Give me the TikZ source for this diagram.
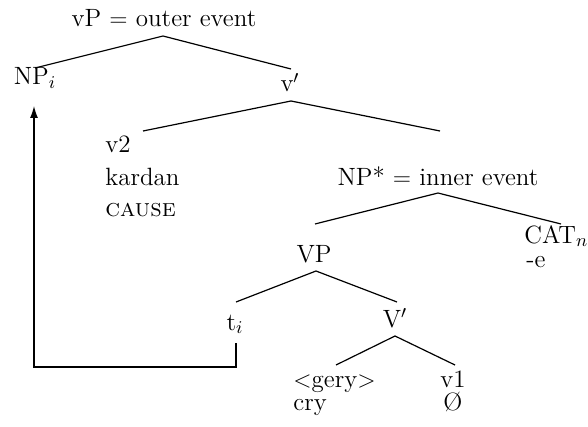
\documentclass[tikz,border=0pt]{standalone}
\usetikzlibrary{arrows.meta}
\begin{document}
\begin{tikzpicture}[x=0.5pt,y=-0.5pt,
  lbl/.style={inner sep=0pt,anchor=base,font=\fontsize{12.5}{15}\selectfont},
  lblw/.style={lbl,anchor=base west},
  branch/.style={line width=0.6pt,line join=miter},
  mover/.style={line width=0.6pt,-{Latex[length=6pt,width=4pt]}}]
\useasboundingbox (0,0) rectangle (588,427);
% labels
\node[lbl] (vP) at (164,27) {vP $=$ outer event};
\node[lbl] (NPi) at (35,85) {NP$_i$};
\node[lbl] (vbar) at (290,92) {v$'$};
\node[lblw] (v2) at (105,153) {v2};
\node[lblw] (kardan) at (105,185) {kardan};
\node[lblw] (cause) at (105,216) {\textsc{cause}};
\node[lbl] (NPs) at (438,185) {NP* $=$ inner event};
\node[lbl] (VP) at (314,262) {VP};
\node[lblw] (CAT) at (524,243) {CAT$_n$};
\node[lblw] (e) at (526,267) {-e};
\node[lbl] (ti) at (235,330) {t$_i$};
\node[lbl] (Vbar) at (395,327) {V$'$};
\node[lblw] (gery) at (293,387) {$<$gery$>$};
\node[lblw] (cry) at (293,410) {cry};
\node[lbl] (v1) at (453,387) {v1};
\node[lbl] (null) at (453,410) {\O};
% branch points
\coordinate (a1) at (163,36); \coordinate (a1l) at (35,68); \coordinate (a1r) at (291,69);
\coordinate (a2) at (291,101); \coordinate (a2l) at (143,131); \coordinate (a2r) at (440,131);
\coordinate (a3) at (438,193); \coordinate (a3l) at (315,224); \coordinate (a3r) at (561,224);
\coordinate (a4) at (316,271); \coordinate (a4l) at (236,302); \coordinate (a4r) at (397,302);
\coordinate (a5) at (395,336); \coordinate (a5l) at (336,365); \coordinate (a5r) at (455,365);
\draw[branch] (a1l) -- (a1) -- (a1r);
\draw[branch] (a2l) -- (a2) -- (a2r);
\draw[branch] (a3l) -- (a3) -- (a3r);
\draw[branch] (a4l) -- (a4) -- (a4r);
\draw[branch] (a5l) -- (a5) -- (a5r);
% movement arrow
\coordinate (m0) at (236,343);
\coordinate (m1) at (236,367);
\coordinate (m2) at (34,367);
\coordinate (m3) at (34,106);
\draw[mover] (m0) -- (m1) -- (m2) -- (m3);
\end{tikzpicture}
\end{document}
